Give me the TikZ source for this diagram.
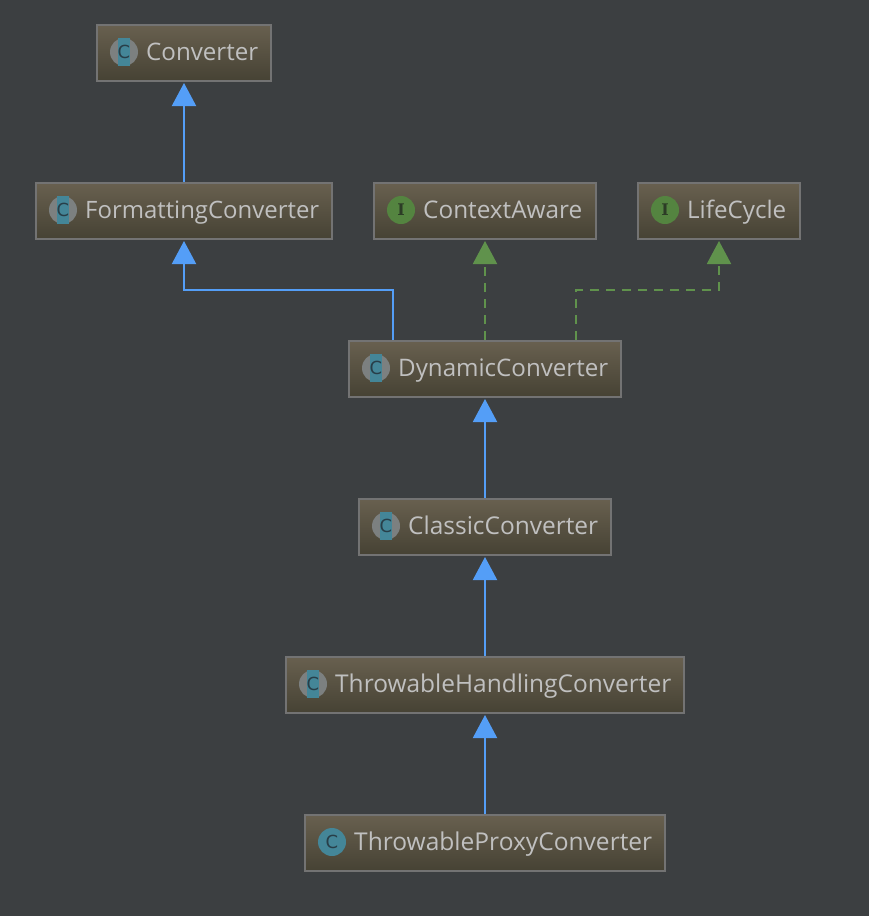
\documentclass[tikz,border=0pt]{standalone}
\usepackage{fontspec}
\setmainfont{Open Sans}
\newfontfamily\iconfont{DejaVu Sans}
\newfontfamily\ifacefont{DejaVu Serif}[BoldFont={DejaVu Serif Bold}]
\usetikzlibrary{arrows.meta,calc}
\definecolor{bgc}{RGB}{60,63,65}
\definecolor{boxtop}{RGB}{104,96,79}
\definecolor{boxbot}{RGB}{70,66,52}
\definecolor{boxline}{RGB}{115,115,115}
\definecolor{txtc}{RGB}{192,192,192}
\definecolor{blueln}{RGB}{84,158,247}
\definecolor{greenln}{RGB}{96,146,76}
\definecolor{tealc}{RGB}{68,134,152}
\definecolor{grayc}{RGB}{124,128,128}
\definecolor{icotxt}{RGB}{40,62,72}
\definecolor{igreen}{RGB}{84,132,64}
\definecolor{itxt}{RGB}{44,60,38}
\tikzset{
  x=1pt,y=-1pt,
  umlbox/.style={draw=boxline,line width=2pt,top color=boxtop,bottom color=boxbot,minimum height=56pt,inner sep=0pt,outer sep=1pt},
  lbl/.style={text=txtc,anchor=base west,inner sep=0pt,font=\fontsize{23}{25}\selectfont},
  icon/.style={circle,minimum size=28pt,inner sep=0pt,font=\iconfont\fontsize{18}{18}\selectfont},
  absdisc/.style={icon,fill=grayc},
  absbar/.style={rectangle,minimum width=12pt,minimum height=28pt,inner sep=0pt,fill=tealc,text=icotxt,font=\iconfont\fontsize{18}{18}\selectfont},
  clsicon/.style={icon,fill=tealc,text=icotxt},
  ificon/.style={icon,fill=igreen,text=itxt,font=\ifacefont\bfseries\fontsize{16}{16}\selectfont},
  inherit/.style={draw=blueln,line width=2pt,-{Triangle[length=23pt,width=24pt,fill=blueln]},shorten >=1pt},
  implement/.style={draw=greenln,line width=2pt,dash pattern=on 9pt off 7pt,-{Triangle[length=23pt,width=24pt,fill=greenln]},shorten >=1pt},
}
\begin{document}
\begin{tikzpicture}
\useasboundingbox (0,0) rectangle (868,916);
\fill[bgc] (-4,-4) rectangle (872,920);
% boxes
\node[umlbox,minimum width=174pt] (converter) at (184,53) {};
\node[umlbox,minimum width=296pt] (formatting) at (184,211) {};
\node[umlbox,minimum width=222pt] (contextaware) at (485,211) {};
\node[umlbox,minimum width=162pt] (lifecycle) at (719,211) {};
\node[umlbox,minimum width=272pt] (dynamic) at (485,369) {};
\node[umlbox,minimum width=252pt] (classic) at (485,527) {};
\node[umlbox,minimum width=398pt] (handling) at (485,685) {};
\node[umlbox,minimum width=360pt] (proxy) at (485,843) {};
% icons
\node[absdisc] (d1) at (124,52) {};
\node[absbar] (i1) at (d1) {C};
\node[absdisc] (d2) at (63,210) {};
\node[absbar] (i2) at (d2) {C};
\node[ificon] (i3) at (401,210) {I};
\node[ificon] (i4) at (665,210) {I};
\node[absdisc] (d5) at (376,368) {};
\node[absbar] (i5) at (d5) {C};
\node[absdisc] (d6) at (386,526) {};
\node[absbar] (i6) at (d6) {C};
\node[absdisc] (d7) at (313,684) {};
\node[absbar] (i7) at (d7) {C};
\node[clsicon] (i8) at (332,842) {C};
% labels
\node[lbl] (t1) at (146,60) {\resizebox{112pt}{!}{Converter}};
\node[lbl] (t2) at (85,218) {\resizebox{234pt}{!}{FormattingConverter}};
\node[lbl] (t3) at (423,218) {\resizebox{159pt}{!}{ContextAware}};
\node[lbl] (t4) at (687,218) {\resizebox{99pt}{!}{LifeCycle}};
\node[lbl] (t5) at (398,376) {\resizebox{210pt}{!}{DynamicConverter}};
\node[lbl] (t6) at (408,534) {\resizebox{190pt}{!}{ClassicConverter}};
\node[lbl] (t7) at (335,692) {\resizebox{336pt}{!}{ThrowableHandlingConverter}};
\node[lbl] (t8) at (354,850) {\resizebox{298pt}{!}{ThrowableProxyConverter}};
% connectors
\coordinate (bendA) at (393,290);
\coordinate (bendB) at (576,290);
\draw[inherit] (formatting.north) -- (converter.south);
\draw[inherit] (dynamic.north -| bendA) -- (bendA) -| (formatting.south);
\draw[implement] (dynamic.north) -- (contextaware.south);
\draw[implement] (dynamic.north -| bendB) -- (bendB) -| (lifecycle.south);
\draw[inherit] (classic.north) -- (dynamic.south);
\draw[inherit] (handling.north) -- (classic.south);
\draw[inherit] (proxy.north) -- (handling.south);
\end{tikzpicture}
\end{document}
